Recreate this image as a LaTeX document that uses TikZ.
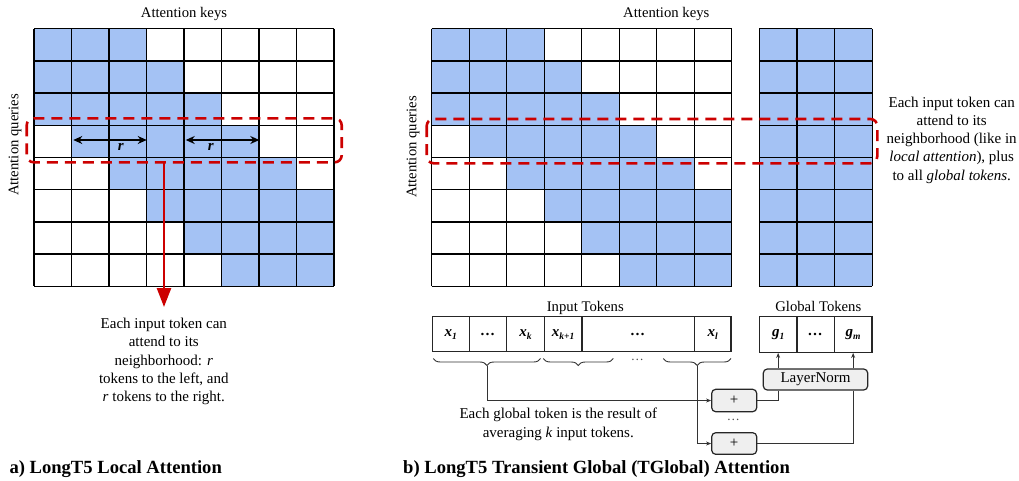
\documentclass[tikz,border=0pt]{standalone}
\usepackage{fontspec}
\setmainfont{Liberation Serif}
\usetikzlibrary{arrows.meta,decorations.pathreplacing,calc}
\definecolor{cellblue}{HTML}{A4C2F4}
\definecolor{dred}{HTML}{CC0000}
\definecolor{boxgray}{HTML}{EFEFEF}
\definecolor{lgray}{HTML}{333333}
\newcommand{\tksub}[1]{\raisebox{-3pt}{\fontsize{9.5}{10}\selectfont #1}}
\begin{document}
\begin{tikzpicture}[x=1pt,y=-1pt,
  gridln/.style={line width=1.4pt, draw=black},
  redbox/.style={draw=dred, line width=2.6pt, dash pattern=on 11pt off 7pt, rounded corners=7pt},
  lbl/.style={font=\fontsize{14.7}{18}\selectfont, inner sep=0pt},
  captxt/.style={font=\fontsize{15}{18.3}\selectfont, align=center, inner sep=0pt},
  ttl/.style={font=\fontsize{18.6}{22}\selectfont\bfseries, anchor=base west, inner sep=0pt},
  tokcell/.style={draw=black!85, line width=1.3pt, inner sep=0pt, font=\fontsize{15}{18}\selectfont\bfseries\itshape},
  opbox/.style={draw=black!85, fill=boxgray, rounded corners=4pt, line width=1.2pt, inner sep=0pt, font=\fontsize{15}{18}\selectfont},
  conn/.style={line width=0.9pt, draw=lgray},
  brc/.style={conn, decorate, decoration={brace, mirror, amplitude=7pt}},
  smalltip/.style={-{Stealth[length=5pt,width=4pt]}},
  darr/.style={line width=1.4pt, {Stealth[length=9pt,width=8pt]}-{Stealth[length=9pt,width=8pt]}}
]
\useasboundingbox (0,0) rectangle (1019,480);

% ---------- left grid ----------
\foreach \r/\a/\b in {0/0/3,1/0/4,2/0/5,3/1/6,4/2/7,5/3/8,6/4/8,7/5/8}
  \fill[cellblue] ({34+\a*37.5},{28.7+\r*32.2}) rectangle ({34+\b*37.5},{28.7+(\r+1)*32.2});
\foreach \k in {0,...,8}{
  \draw[gridln] ({34+\k*37.5},28.7) -- ({34+\k*37.5},286.3);
  \draw[gridln] (34,{28.7+\k*32.2}) -- (334,{28.7+\k*32.2});
}
\node[lbl, anchor=base] (keysA) at (184,17) {Attention keys};
\node[lbl, rotate=90] (queriesA) at (15,145) {Attention queries};

\draw[darr] (73.3,140) -- (146.7,140);
\draw[darr] (185.7,140) -- (259.3,140);
\node[font=\fontsize{15}{18}\selectfont\bfseries\itshape, inner sep=0pt] (rA) at (120.7,147) {r};
\node[font=\fontsize{15}{18}\selectfont\bfseries\itshape, inner sep=0pt] (rB) at (210.7,147) {r};

\draw[redbox] (26.7,118.3) rectangle (341.7,162.3);
\coordinate (ra) at (164,163);
\coordinate (rb) at (164,307);
\draw[dred, line width=2.6pt, -{Triangle[length=19pt,width=14pt]}] (ra) -- (rb);

\node[captxt] (capA) at (163.8,361.7) {Each input token can\\attend to its\\neighborhood: \textit{r}\\tokens to the left, and\\\textit{r} tokens to the right.};

\node[ttl] (titleA) at (9.3,473) {a) LongT5 Local Attention};

% ---------- right grid ----------
\foreach \r/\a/\b in {0/0/3,1/0/4,2/0/5,3/1/6,4/2/7,5/3/8,6/4/8,7/5/8}
  \fill[cellblue] ({431.7+\a*37.5},{28.7+\r*32.2}) rectangle ({431.7+\b*37.5},{28.7+(\r+1)*32.2});
\fill[cellblue] (759.3,28.7) rectangle (872.3,286.3);
\foreach \k in {0,...,8}{
  \draw[gridln] ({431.7+\k*37.5},28.7) -- ({431.7+\k*37.5},286.3);
  \draw[gridln] (431.7,{28.7+\k*32.2}) -- (731.7,{28.7+\k*32.2});
  \draw[gridln] (759.3,{28.7+\k*32.2}) -- (872.3,{28.7+\k*32.2});
}
\foreach \k in {0,...,3}
  \draw[gridln] ({759.3+\k*37.667},28.7) -- ({759.3+\k*37.667},286.3);

\node[lbl, anchor=base] (keysB) at (666.3,17) {Attention keys};
\node[lbl, rotate=90] (queriesB) at (413,147) {Attention queries};

\draw[redbox] (426.7,119) rectangle (877.3,163.3);

\node[captxt] (capB) at (951.7,140) {Each input token can\\attend to its\\neighborhood (like in\\\textit{local attention}), plus\\to all \textit{global tokens}.};

% ---------- input tokens ----------
\node[lbl, anchor=base] (inlbl) at (585.3,311.5) {Input Tokens};
\node[tokcell, minimum width=37pt, minimum height=35pt] (x1) at (450.8,334.2) {x\tksub{1}};
\node[tokcell, minimum width=37.4pt, minimum height=35pt] (xd1) at (488,334.2) {…};
\node[tokcell, minimum width=37.6pt, minimum height=35pt] (xk) at (525.5,334.2) {x\tksub{k}};
\node[tokcell, minimum width=37.7pt, minimum height=35pt] (xk1) at (563.15,334.2) {x\tksub{k+1}};
\node[tokcell, minimum width=112.3pt, minimum height=35pt] (xd2) at (638.15,334.2) {…};
\node[tokcell, minimum width=36.7pt, minimum height=35pt] (xl) at (712.65,334.2) {x\tksub{l}};

% ---------- global tokens ----------
\node[lbl, anchor=base] (glbl) at (818.3,311.5) {Global Tokens};
\node[tokcell, minimum width=37.7pt, minimum height=35.6pt] (g1) at (778.15,334.5) {g\tksub{1}};
\node[tokcell, minimum width=37.3pt, minimum height=35.6pt] (gd) at (815.65,334.5) {…};
\node[tokcell, minimum width=37.7pt, minimum height=35.6pt] (gm) at (853.15,334.5) {g\tksub{m}};

% ---------- braces ----------
\draw[brc] (433.3,358.5) -- (540.5,358.5);
\draw[brc] (543.3,358.5) -- (613.3,358.5);
\draw[brc] (663.3,358.5) -- (731,358.5);
\node[font=\fontsize{13}{14}\selectfont, text=black!70, inner sep=0pt] (bdots) at (637.3,360) {…};
\coordinate (b1) at (487,365.5);
\coordinate (b3) at (697.2,365.5);

% ---------- ops ----------
\node[opbox, minimum width=45pt, minimum height=22.4pt] (p1) at (734.2,400.5) {+};
\node[opbox, minimum width=45pt, minimum height=21.6pt] (p2) at (734.2,443.5) {+};
\node[font=\fontsize{13}{14}\selectfont, text=black!70, inner sep=0pt] (pdots) at (733.3,419.5) {…};
\node[opbox, minimum width=104.4pt, minimum height=21pt] (ln) at (815.5,379.5) {LayerNorm};

\draw[conn, smalltip] (b1) |- (p1.west);
\draw[conn, smalltip] (b3) |- (p2.west);
\draw[conn] (p1.east) -| (g1 |- ln.south);
\draw[conn] (p2.east) -| (gm |- ln.south);
\draw[conn, smalltip] (g1 |- ln.north) -- (g1.south);
\draw[conn, smalltip] (gm |- ln.north) -- (gm.south);

\node[captxt] (capC) at (558.3,424.2) {Each global token is the result of\\averaging \textit{k} input tokens.};

\node[ttl] (titleB) at (403,473) {b) LongT5 Transient Global (TGlobal) Attention};
\end{tikzpicture}
\end{document}
